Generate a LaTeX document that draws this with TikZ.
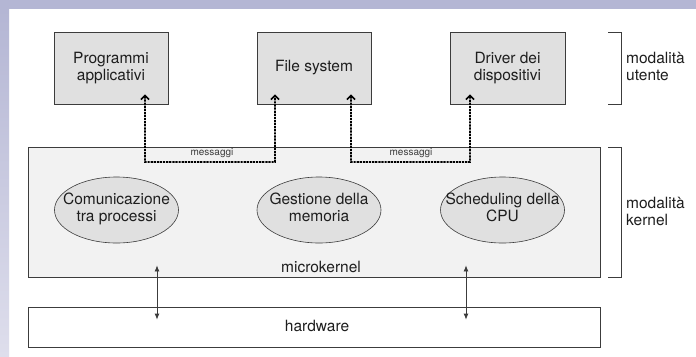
\documentclass[tikz,border=0pt]{standalone}
\usepackage{fontspec}
\setmainfont{TeX Gyre Heros}
\usetikzlibrary{arrows.meta,shapes.geometric}
\definecolor{bandtop}{RGB}{180,182,212}
\definecolor{bandbot}{RGB}{222,222,236}
\definecolor{boxfill}{RGB}{224,224,224}
\definecolor{kernfill}{RGB}{242,242,242}
\definecolor{edge}{RGB}{60,60,60}
\definecolor{txt}{RGB}{30,30,30}
\newcommand\ctext[1]{\makebox[0pt]{\begin{tabular}{@{}c@{}}#1\end{tabular}}}
\tikzset{
  userbox/.style={draw=edge, line width=0.8bp, fill=boxfill, minimum height=72bp, align=center, inner sep=0pt, text=txt, font=\fontsize{15.5bp}{17bp}\selectfont},
  layerbox/.style={draw=edge, line width=0.8bp, minimum width=572bp, inner sep=0pt},
  service/.style={ellipse, draw=edge, line width=0.6bp, fill=boxfill, minimum width=124bp, minimum height=66bp, inner sep=0pt, text=txt, font=\fontsize{15.5bp}{17bp}\selectfont},
  lbl/.style={text=txt, font=\fontsize{15.5bp}{17bp}\selectfont, inner sep=0pt},
  modelbl/.style={text=txt, font=\fontsize{15.5bp}{17bp}\selectfont, align=left, anchor=west, inner sep=0pt},
  msglbl/.style={text=edge, font=\fontsize{10bp}{11bp}\selectfont, inner sep=0pt},
  msg/.style={line width=1.8bp, dash pattern=on 2.2bp off 0.9bp, {Straight Barb[length=4bp,width=8bp,line width=1.6bp]}-{Straight Barb[length=4bp,width=8bp,line width=1.6bp]}},
  hwarrow/.style={line width=0.8bp, draw=edge, {Latex[length=6bp,width=5bp]}-{Latex[length=6bp,width=5bp]}},
  bracket/.style={draw=edge, line width=0.9bp}
}
\begin{document}
\begin{tikzpicture}[x=1bp,y=-1bp]
\useasboundingbox (0,0) rectangle (696,356);
% slide background
\fill[white] (0,0) rectangle (696,356);
\fill[bandtop] (0,0) rectangle (696,9);
\shade[top color=bandtop, bottom color=bandbot] (0,9) rectangle (9,356);

% user-mode boxes
\node[userbox, minimum width=114bp] (prog) at (111,68) {Programmi\\applicativi};
\node[userbox, minimum width=114bp] (fs) at (314,68) {File system};
\node[userbox, minimum width=115bp] (drv) at (507.5,68) {Driver dei\\dispositivi};

% kernel layer
\node[layerbox, fill=kernfill, minimum height=130bp] (kernel) at (314,212) {};
\node[service] (ipc) at (116.5,210) {\ctext{Comunicazione\\tra processi}};
\node[service] (mem) at (319,210) {\ctext{Gestione della\\memoria}};
\node[service] (cpu) at (502.5,210) {\ctext{Scheduling della\\CPU}};
\node[lbl] (mk) at (321,267) {microkernel};

% hardware layer
\node[layerbox, fill=white, minimum height=40bp] (hw) at (314,327) {};
\node[lbl] (hwl) at (317,326) {hardware};

% messages
\coordinate (m1) at (145,162);
\coordinate (m2) at (275,162);
\coordinate (m3) at (351,162);
\coordinate (m4) at (470,162);
\draw[msg] ([xshift=34bp,yshift=10bp]prog.south) -- (m1) -- (m2) -- ([xshift=-39bp,yshift=10bp]fs.south);
\draw[msg] ([xshift=37bp,yshift=10bp]fs.south) -- (m3) -- (m4) -- ([xshift=-37.5bp,yshift=10bp]drv.south);
\node[msglbl] (ml1) at (212,153) {messaggi};
\node[msglbl] (ml2) at (411,153) {messaggi};

% kernel <-> hardware
\draw[hwarrow] ([xshift=-157bp,yshift=12bp]kernel.south) -- ([xshift=-157bp,yshift=-13bp]hw.north);
\draw[hwarrow] ([xshift=152bp,yshift=12bp]kernel.south) -- ([xshift=152bp,yshift=-13bp]hw.north);

% mode brackets
\coordinate (bu1) at (608,32);
\coordinate (bu2) at (621,32);
\coordinate (bu3) at (621,104);
\coordinate (bu4) at (608,104);
\draw[bracket] (bu1) -- (bu2) -- (bu3) -- (bu4);
\node[modelbl] (um) at (626,66) {modalità\\utente};
\coordinate (bk1) at (608,147);
\coordinate (bk2) at (621,147);
\coordinate (bk3) at (621,277);
\coordinate (bk4) at (608,277);
\draw[bracket] (bk1) -- (bk2) -- (bk3) -- (bk4);
\node[modelbl] (km) at (626,211) {modalità\\kernel};
\end{tikzpicture}
\end{document}
